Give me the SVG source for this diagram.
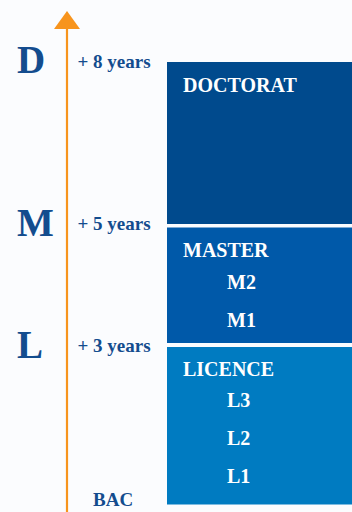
<svg xmlns="http://www.w3.org/2000/svg" width="352" height="512" viewBox="0 0 352 512">
<style>
.lvl{font-family:"Liberation Serif","Times New Roman",serif;font-weight:bold;font-size:39px;fill:#134C8E}
.yr{font-family:"Liberation Serif","Times New Roman",serif;font-weight:bold;font-size:19px;fill:#134C8E}
.bt{font-family:"Liberation Serif","Times New Roman",serif;font-weight:bold;font-size:20px;fill:#FFFFFF}
.st{font-family:"Liberation Serif","Times New Roman",serif;font-weight:bold;font-size:20px;fill:#FFFFFF}
</style>
<rect x="0" y="0" width="352" height="512" fill="#FBFCFE"/>
<g id="connectors">
<line x1="67" y1="26" x2="67" y2="512" stroke="#F7941D" stroke-width="2.2"/>
<polygon points="67,11 54,29 80,29" fill="#F7941D"/>
</g>
<g id="labels-left">
<text class="lvl" x="17" y="73">D</text>
<text class="lvl" x="17" y="236">M</text>
<text class="lvl" x="17" y="358">L</text>
<text class="yr" x="77.5" y="68">+ 8 years</text>
<text class="yr" x="77.5" y="230">+ 5 years</text>
<text class="yr" x="77.5" y="352">+ 3 years</text>
<text class="yr" x="93" y="505.5">BAC</text>
</g>
<g id="doctorat">
<rect x="167" y="62" width="185" height="162" fill="#004A8D"/>
<text class="bt" x="183" y="92">DOCTORAT</text>
</g>
<g id="master">
<rect x="167" y="227.5" width="185" height="115.5" fill="#0059A9"/>
<text class="bt" x="183" y="257">MASTER</text>
<text class="st" x="227" y="289">M2</text>
<text class="st" x="227" y="327">M1</text>
</g>
<g id="licence">
<rect x="167" y="347" width="185" height="157.5" fill="#007BC1"/>
<text class="bt" x="183" y="375.5">LICENCE</text>
<text class="st" x="227" y="407">L3</text>
<text class="st" x="227" y="444.5">L2</text>
<text class="st" x="227" y="483">L1</text>
</g>
</svg>
